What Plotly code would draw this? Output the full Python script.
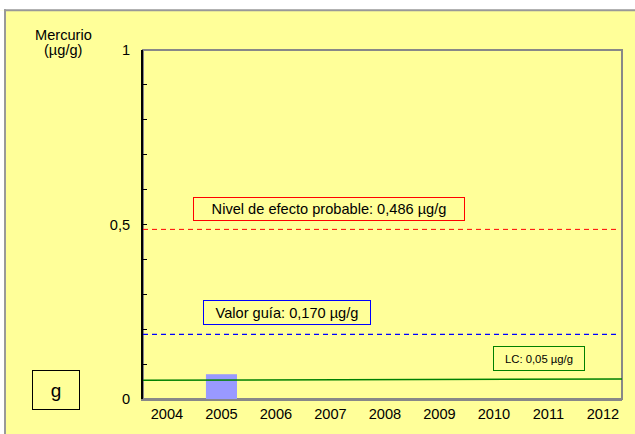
import plotly.graph_objects as go

# data
years = ["2004", "2005", "2006", "2007", "2008", "2009", "2010", "2011", "2012"]
mercurio = [None, 0.071, None, None, None, None, None, None, None]

nivel_efecto = 0.486      # red dashed line
valor_guia = 0.185        # blue dashed line (as drawn)
lc_start, lc_end = 0.054, 0.057   # green LC line

y_ticks = [0, 0.1, 0.2, 0.3, 0.4, 0.5, 0.6, 0.7, 0.8, 0.9, 1]
y_text = ["0", "", "", "", "", "0,5", "", "", "", "", "1"]

FONT = "Arial, Liberation Sans, sans-serif"
YELLOW = "#FFFF99"
FS = 14.6

# plot area in pixels, used to place boxes in paper coords
L, R, T, B = 143, 622, 50, 402
def px(x):
    return (x - L) / (R - L)
def py(y):
    return (B - y) / (B - T)

fig = go.Figure()
fig.add_trace(go.Bar(x=years, y=mercurio, marker=dict(color="#9999FF", line=dict(width=0)),
                     width=0.57, showlegend=False, hoverinfo="skip"))

shapes = [
    # white page strip above / left of the chart frame
    dict(type="rect", xref="paper", yref="paper", x0=px(-5), x1=px(645), y0=py(10), y1=py(-5),
         fillcolor="white", line=dict(width=0), layer="below"),
    dict(type="rect", xref="paper", yref="paper", x0=px(-5), x1=px(5), y0=py(445), y1=py(10),
         fillcolor="white", line=dict(width=0), layer="below"),
    dict(type="line", xref="paper", yref="paper", x0=px(4), x1=px(645), y0=py(10), y1=py(10),
         line=dict(color="#999999", width=2), layer="below"),
    dict(type="line", xref="paper", yref="paper", x0=px(5), x1=px(5), y0=py(445), y1=py(9),
         line=dict(color="#999999", width=2), layer="below"),
    # plot area frame (grey top / right)
    dict(type="rect", xref="paper", yref="paper", x0=0, x1=1, y0=0, y1=1,
         line=dict(color="#888888", width=2), layer="below"),
    dict(type="line", xref="paper", yref="y", x0=0, x1=px(617), y0=nivel_efecto, y1=nivel_efecto,
         line=dict(color="#FF0000", width=1, dash="5px,4px")),
    dict(type="line", xref="paper", yref="y", x0=0, x1=px(616), y0=valor_guia, y1=valor_guia,
         line=dict(color="#0000FF", width=1.3, dash="5px,4px")),
    dict(type="line", xref="paper", yref="y", x0=0, x1=1, y0=lc_start, y1=lc_end,
         line=dict(color="#008000", width=1.5)),
]

def box(text, cx, cy, w, h, color, size):
    return dict(text=text, xref="paper", yref="paper", x=px(cx), y=py(cy),
                xanchor="center", yanchor="middle", showarrow=False,
                width=w, height=h, bordercolor=color, borderwidth=1, borderpad=0,
                font=dict(family=FONT, size=size, color="black"))

def label(text, cx, cy):
    return dict(text=text, xref="paper", yref="paper", x=px(cx), y=py(cy),
                xanchor="center", yanchor="middle", showarrow=False,
                font=dict(family=FONT, size=FS, color="black"))

annotations = [
    box("Nivel de efecto probable: 0,486 µg/g", 328.5, 210.5, 270, 22, "#FF0000", FS),
    box("Valor guía: 0,170 µg/g", 287, 314.5, 166, 23, "#0000FF", FS),
    box("LC: 0,05 µg/g", 539, 361.3, 90, 23, "#008000", 11.3),
    box("g", 56, 393, 46, 38, "black", 19),
    label("Mercurio", 63, 35),
    label("(µg/g)", 63, 50),
]

fig.update_layout(
    width=635, height=434,
    margin=dict(l=L, r=635 - R, t=T, b=434 - B),
    paper_bgcolor=YELLOW, plot_bgcolor=YELLOW,
    font=dict(family=FONT, size=FS, color="black"),
    shapes=shapes, annotations=annotations,
    showlegend=False,
)
fig.update_xaxes(type="category", range=[-0.44, 8.35], showline=True, linecolor="#888888",
                 linewidth=2, showgrid=False, ticks="", zeroline=False)
fig.update_yaxes(range=[0, 1], tickvals=y_ticks, ticktext=y_text, ticks="inside", ticklen=4,
                 tickcolor="black", showline=True, linecolor="black", linewidth=2,
                 showgrid=False, zeroline=False, ticklabelstandoff=8)

# drop the default page margin / scrollbars so the figure sits at the window corner
fig.write_html("out.html", config={"displayModeBar": False},
               post_script="document.body.style.margin='0';"
                           "document.body.style.overflow='hidden';"
                           "document.documentElement.style.overflow='hidden';")
